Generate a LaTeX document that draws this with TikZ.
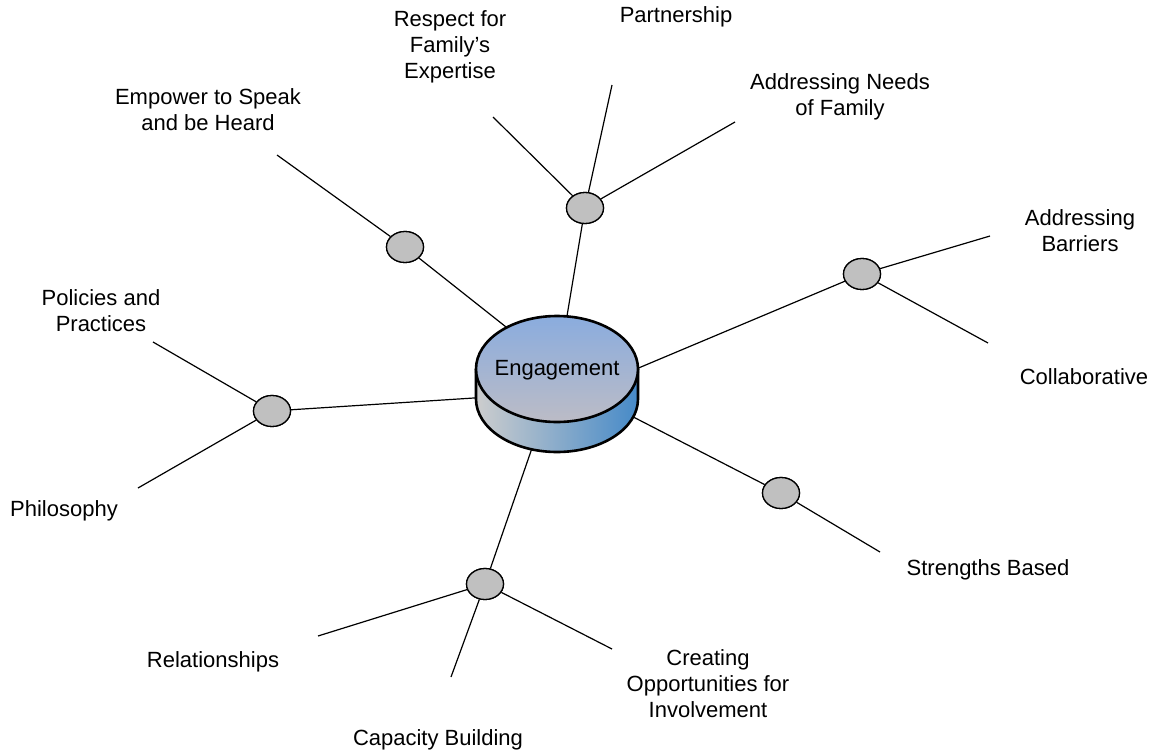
\documentclass[tikz,border=0pt]{standalone}
\usepackage{fontspec}
\setmainfont{Liberation Sans}
\usetikzlibrary{shapes.geometric}
\definecolor{hubgray}{RGB}{192,192,192}
\definecolor{toptop}{RGB}{138,172,222}
\definecolor{topbot}{RGB}{188,188,198}
\definecolor{sideleft}{RGB}{205,205,205}
\definecolor{sideright}{RGB}{70,138,200}
\tikzset{
  hub/.style={ellipse, draw=black, line width=1.3pt, fill=hubgray, minimum width=37pt, minimum height=31pt, inner sep=0pt},
  lbl/.style={align=center, font=\fontsize{22}{26}\selectfont, inner sep=0pt},
  spoke/.style={line width=1.2pt, black},
}
\begin{document}
\begin{tikzpicture}[x=1pt,y=-1pt]
\useasboundingbox (0,0) rectangle (1164,755);
% hubs
\node[hub] (hEmp) at (405,247) {};
\node[hub] (hTop) at (585,208) {};
\node[hub] (hRgt) at (862,274) {};
\node[hub] (hLft) at (272,411) {};
\node[hub] (hStr) at (781,493) {};
\node[hub] (hBot) at (485,584) {};
% entry points under the cylinder
\coordinate (cEmp) at (525,342);
\coordinate (cTop) at (563,340);
\coordinate (cRgt) at (610,380);
\coordinate (cLft) at (505,396);
\coordinate (cStr) at (610,405);
\coordinate (cBot) at (540,425);
% free ends
\coordinate (eEmp) at (277,155);
\coordinate (eRes) at (493,117);
\coordinate (ePar) at (612,85);
\coordinate (eNee) at (735,122);
\coordinate (eBar) at (990,236);
\coordinate (eCol) at (988,343);
\coordinate (ePol) at (153,342);
\coordinate (ePhi) at (138,488);
\coordinate (eStr) at (880,552);
\coordinate (eRel) at (318,636);
\coordinate (eCap) at (451,677);
\coordinate (eCre) at (612,649);
% spokes
\draw[spoke] (eEmp) -- (hEmp);
\draw[spoke] (hEmp) -- (cEmp);
\draw[spoke] (eRes) -- (hTop);
\draw[spoke] (ePar) -- (hTop);
\draw[spoke] (eNee) -- (hTop);
\draw[spoke] (hTop) -- (cTop);
\draw[spoke] (eBar) -- (hRgt);
\draw[spoke] (eCol) -- (hRgt);
\draw[spoke] (hRgt) -- (cRgt);
\draw[spoke] (ePol) -- (hLft);
\draw[spoke] (ePhi) -- (hLft);
\draw[spoke] (hLft) -- (cLft);
\draw[spoke] (eStr) -- (hStr);
\draw[spoke] (hStr) -- (cStr);
\draw[spoke] (eRel) -- (hBot);
\draw[spoke] (eCap) -- (hBot);
\draw[spoke] (eCre) -- (hBot);
\draw[spoke] (hBot) -- (cBot);
% redraw hubs on top
\node[hub] at (hEmp) {};
\node[hub] at (hTop) {};
\node[hub] at (hRgt) {};
\node[hub] at (hLft) {};
\node[hub] at (hStr) {};
\node[hub] at (hBot) {};
% cylinder
\shade[left color=sideleft, right color=sideright]
  (476,369) -- (476,399) arc[start angle=180, end angle=360, x radius=81pt, y radius=53pt]
  -- (638,369) arc[start angle=0, end angle=-180, x radius=81pt, y radius=53pt] -- cycle;
\draw[line width=2.6pt]
  (476,369) -- (476,399) arc[start angle=180, end angle=360, x radius=81pt, y radius=53pt]
  -- (638,369);
\shade[top color=toptop, bottom color=topbot] (557,369) ellipse [x radius=81pt, y radius=53pt];
\draw[line width=2.6pt] (557,369) ellipse [x radius=81pt, y radius=53pt];
\node[lbl] (core) at (557,370) {Engagement};
% labels
\node[lbl] (tEmp) at (208,110) {Empower to Speak\\and be Heard};
\node[lbl] (tRes) at (450,47) {Respect for\\Family’s\\Expertise};
\node[lbl] (tPar) at (676,17) {Partnership};
\node[lbl] (tNee) at (840,97) {Addressing Needs\\of Family};
\node[lbl] (tBar) at (1080,231) {Addressing\\Barriers};
\node[lbl] (tCol) at (1084,377) {Collaborative};
\node[lbl] (tPol) at (101,311) {Policies and\\Practices};
\node[lbl] (tPhi) at (64,511) {Philosophy};
\node[lbl] (tStr) at (988,570) {Strengths Based};
\node[lbl] (tRel) at (213,662) {Relationships};
\node[lbl] (tCre) at (708,684) {Creating\\Opportunities for\\Involvement};
\node[lbl] (tCap) at (438,740) {Capacity Building};
\end{tikzpicture}
\end{document}
